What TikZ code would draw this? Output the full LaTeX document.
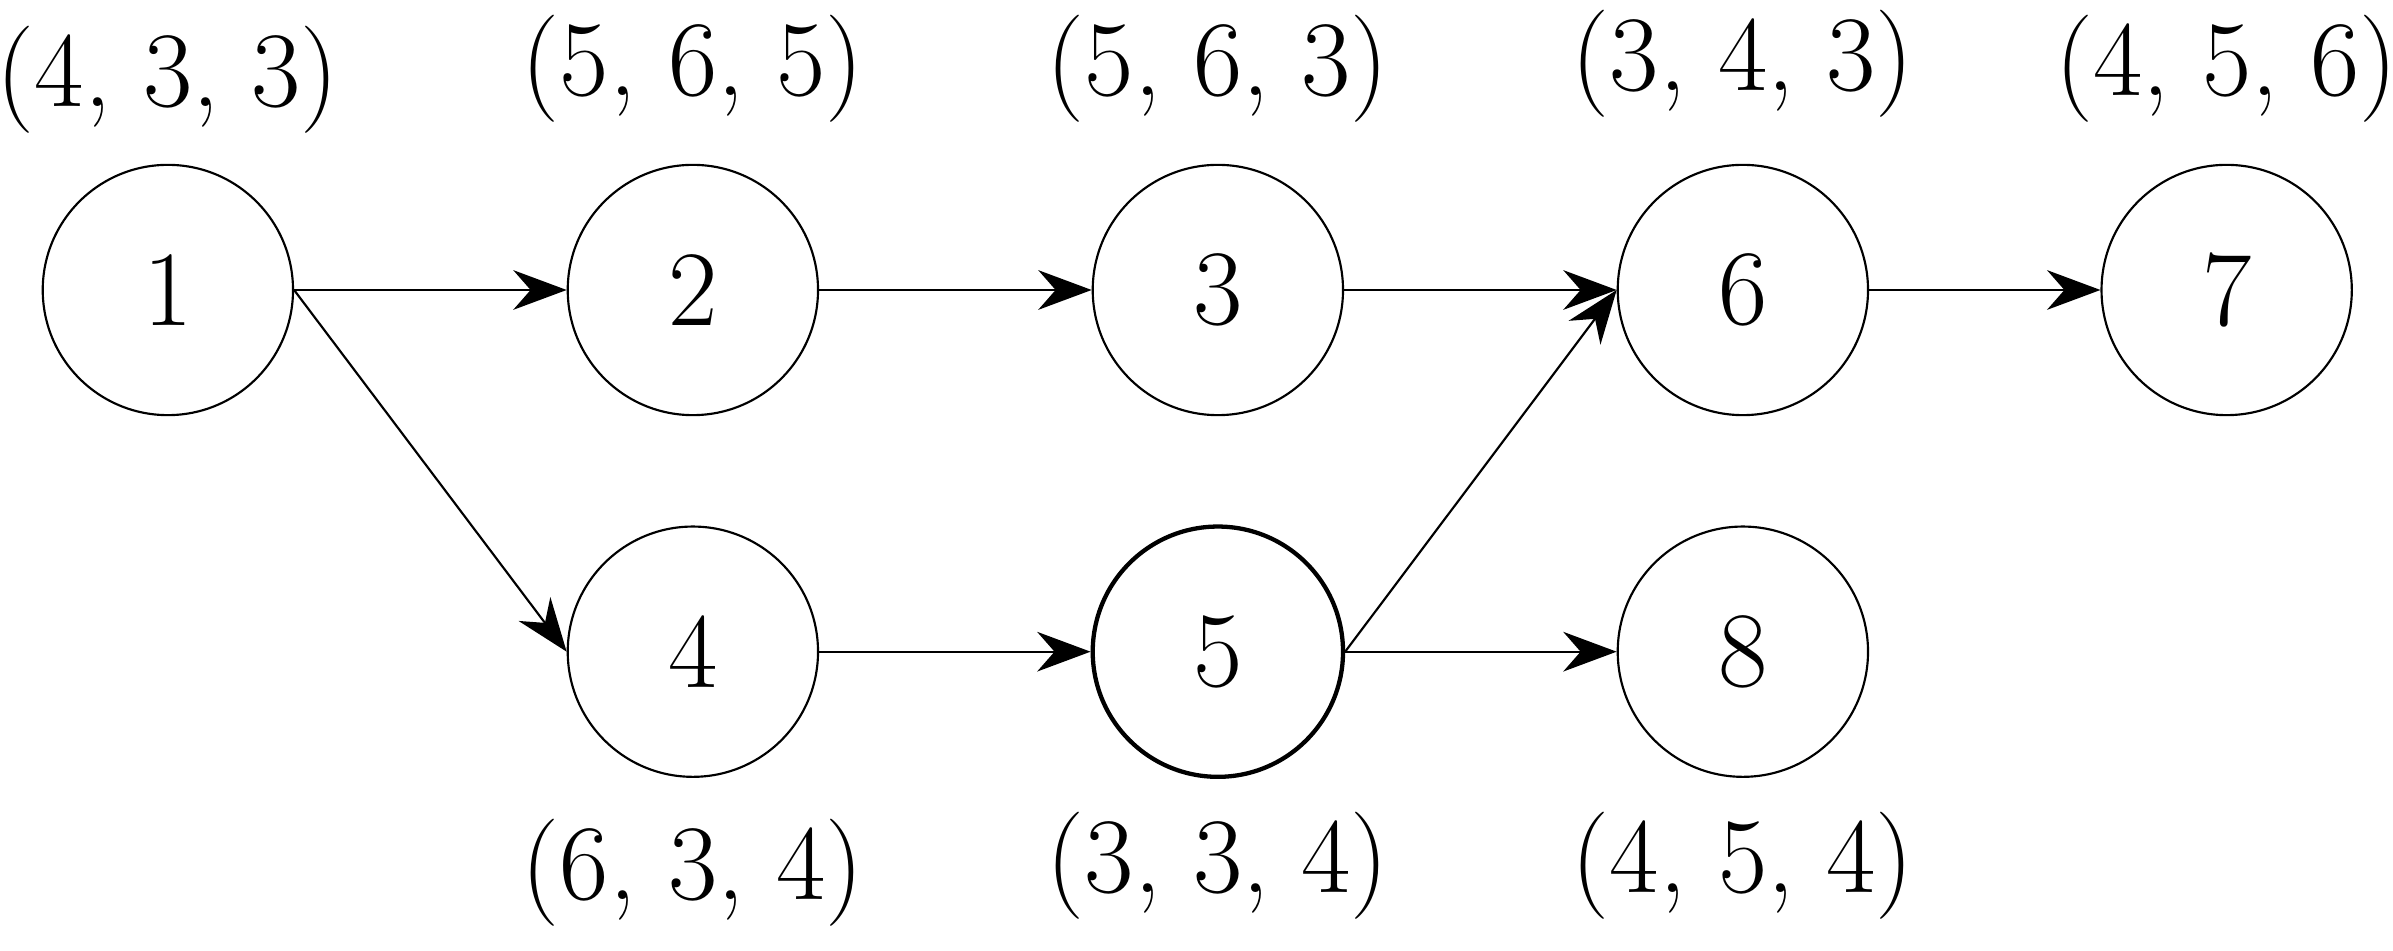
\documentclass[tikz,border=0pt]{standalone}
\usetikzlibrary{arrows.meta}
\begin{document}
\begin{tikzpicture}[node distance={34.4mm}, thin, >={Stealth[length=3.5mm,width=2.6mm]},
  main/.style = {draw, circle, minimum size=16.4mm, inner sep=0pt, font=\fontsize{20}{24}\selectfont},
  lab/.style = {font=\fontsize{20}{24}\selectfont}]
\useasboundingbox (-1.10,-4.325) rectangle (14.58,1.90);
\node[main] (1) {1};
\node[main] (2) [right of=1] {2};
\node[main] (3) [right of=2] {3};
\node[main] (6) [right of=3] {6};
\node[main] (7) [right of=6, xshift=-2.7mm] {7};
\node[main] (4) [below of=2, node distance=23.7mm] {4};
\node[main, thick] (5) [right of=4] {5};
\node[main] (8) [right of=5] {8};

\node[lab] (t1) [above of=1, node distance=13.8mm] {(4, 3, 3)};
\node[lab] (t2) [above of=2, node distance=14.5mm] {(5, 6, 5)};
\node[lab] (t3) [above of=3, node distance=14.5mm] {(5, 6, 3)};
\node[lab] (t6) [above of=6, node distance=14.8mm] {(3, 4, 3)};
\node[lab] (t7) [above of=7, node distance=14.5mm] {(4, 5, 6)};
\node[lab] (t4) [below of=4, node distance=14.5mm] {(6, 3, 4)};
\node[lab] (t5) [below of=5, node distance=14mm] {(3, 3, 4)};
\node[lab] (t8) [below of=8, node distance=14mm] {(4, 5, 4)};

\draw[->] (1) -- (2);
\draw[->] (2) -- (3);
\draw[->] (3) -- (6);
\draw[->] (6) -- (7);
\draw[->] (1.east) -- (4.west);
\draw[->] (4) -- (5);
\draw[->] (5) -- (8);
\draw[->] (5.east) -- (6.west);
\end{tikzpicture}
\end{document}
